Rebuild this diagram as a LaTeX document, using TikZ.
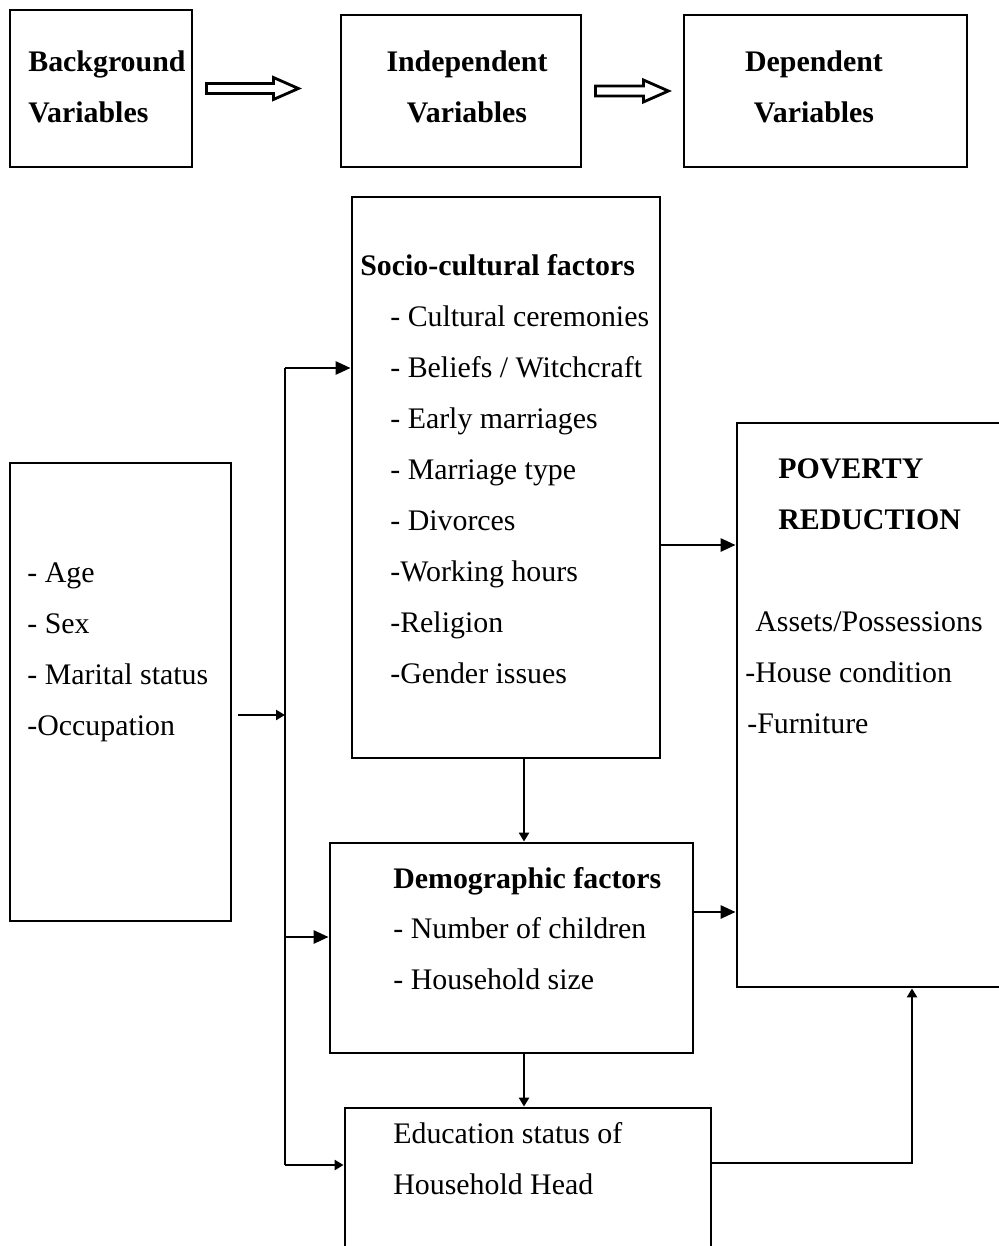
\documentclass[tikz,border=0pt]{standalone}
\usepackage{fontspec}
\setmainfont{Liberation Serif}
\usepackage{tikz}
\usetikzlibrary{arrows.meta,fit,calc,positioning}

\tikzset{
  box/.style={draw, line width=1.6pt, inner sep=0pt},
  txt/.style={anchor=base west, inner sep=0pt, font=\fontsize{17}{21}\selectfont},
  ctxt/.style={txt, anchor=base},
  hd/.style={txt, font=\fontsize{17}{21}\selectfont\bfseries},
  chd/.style={hd, anchor=base},
  arr/.style={line width=1.6pt, -{Triangle[length=0.3cm,width=0.26cm]}},
  sarr/.style={line width=1.6pt, -{Triangle[length=0.18cm,width=0.2cm]}},
  hollow/.style={line width=1.6pt, line join=miter}
}

\begin{document}
\begin{tikzpicture}[x=0.02cm, y=-0.02cm]
\useasboundingbox (0,0) rectangle (998,1246);
% top row
\node[box, fit={(10,10) (192,167)}] (bg) {};
\node[box, fit={(341,15) (581,167)}] (ind) {};
\node[box, fit={(684,15) (967,167)}] (dep) {};
\node[hd] (bgt1) at (28,72) {Background};
\node[hd] (bgt2) at (28,123) {Variables};
\node[chd] (indt1) at (467,72) {Independent};
\node[chd] (indt2) at (467,123) {Variables};
\node[chd] (dept1) at (814,72) {Dependent};
\node[chd] (dept2) at (814,123) {Variables};
\foreach \from/\sl in {bg/67, ind/48}
  \draw[hollow] ($(\from.east)+(13,-5)$) -- ++(\sl,0) -- ++(0,-6) -- ++(25,11)
    -- ++(-25,11) -- ++(0,-6) -- ++(-\sl,0) -- cycle;

% boxes
\node[box, fit={(10,463) (231,921)}] (bgvar) {};
\node[box, fit={(352,197) (660,758)}] (socio) {};
\node[box, fit={(330,843) (693,1053)}] (demo) {};
\node[box, fit={(345,1108) (711,1260)}] (edu) {};
\node[box, fit={(737,423) (1020,987)}] (pov) {};

% background variables
\foreach \t [count=\i] in {- Age, - Sex, - Marital status, -Occupation}
  \node[txt] (bv\i) at (27,531+51*\i) {\t};

% socio-cultural factors
\node[hd] (sochd) at (360,276) {Socio-cultural factors};
\foreach \t [count=\i] in {- Cultural ceremonies, - Beliefs / Witchcraft, - Early marriages,
    - Marriage type, - Divorces, -Working hours, -Religion, -Gender issues}
  \node[txt] (so\i) at (390,276+50.9*\i) {\t};

% demographic factors
\node[hd] (demhd) at (393,888) {Demographic factors};
\node[txt] (dem1) at (393,938) {- Number of children};
\node[txt] (dem2) at (393,989) {- Household size};

% education
\node[txt] (edu1) at (393,1143) {Education status of};
\node[txt] (edu2) at (393,1194) {Household Head};

% poverty reduction
\node[hd] (pov1) at (778,478) {POVERTY};
\node[hd] (pov2) at (778,529) {REDUCTION};
\node[txt] (pov3) at (755,631) {Assets/Possessions};
\node[txt] (pov4) at (745,682) {-House condition};
\node[txt] (pov5) at (747,733) {-Furniture};

% links
\coordinate (sptop) at (285,368);
\coordinate (spmid) at (285,715);
\coordinate (spdem) at (285,937);
\coordinate (spedu) at (285,1165);
\draw[line width=1.6pt] (sptop) -- (spedu);
\draw[sarr, shorten <=0.12cm] (bgvar.east |- spmid) -- (spmid);
\draw[arr] (sptop) -- (sptop -| socio.west);
\draw[arr] (spdem) -- (spdem -| demo.west);
\draw[sarr] (spedu) -- (spedu -| edu.west);
\draw[sarr] (524,0 |- socio.south) -- (524,0 |- demo.north);
\draw[sarr] (524,0 |- demo.south) -- (524,0 |- edu.north);
\draw[arr] (socio.east |- 0,545) -- (pov.west |- 0,545);
\draw[arr] (demo.east |- 0,912) -- (pov.west |- 0,912);
\draw[sarr] (edu.east |- 0,1163) -| (912,0 |- pov.south);
\end{tikzpicture}
\end{document}
